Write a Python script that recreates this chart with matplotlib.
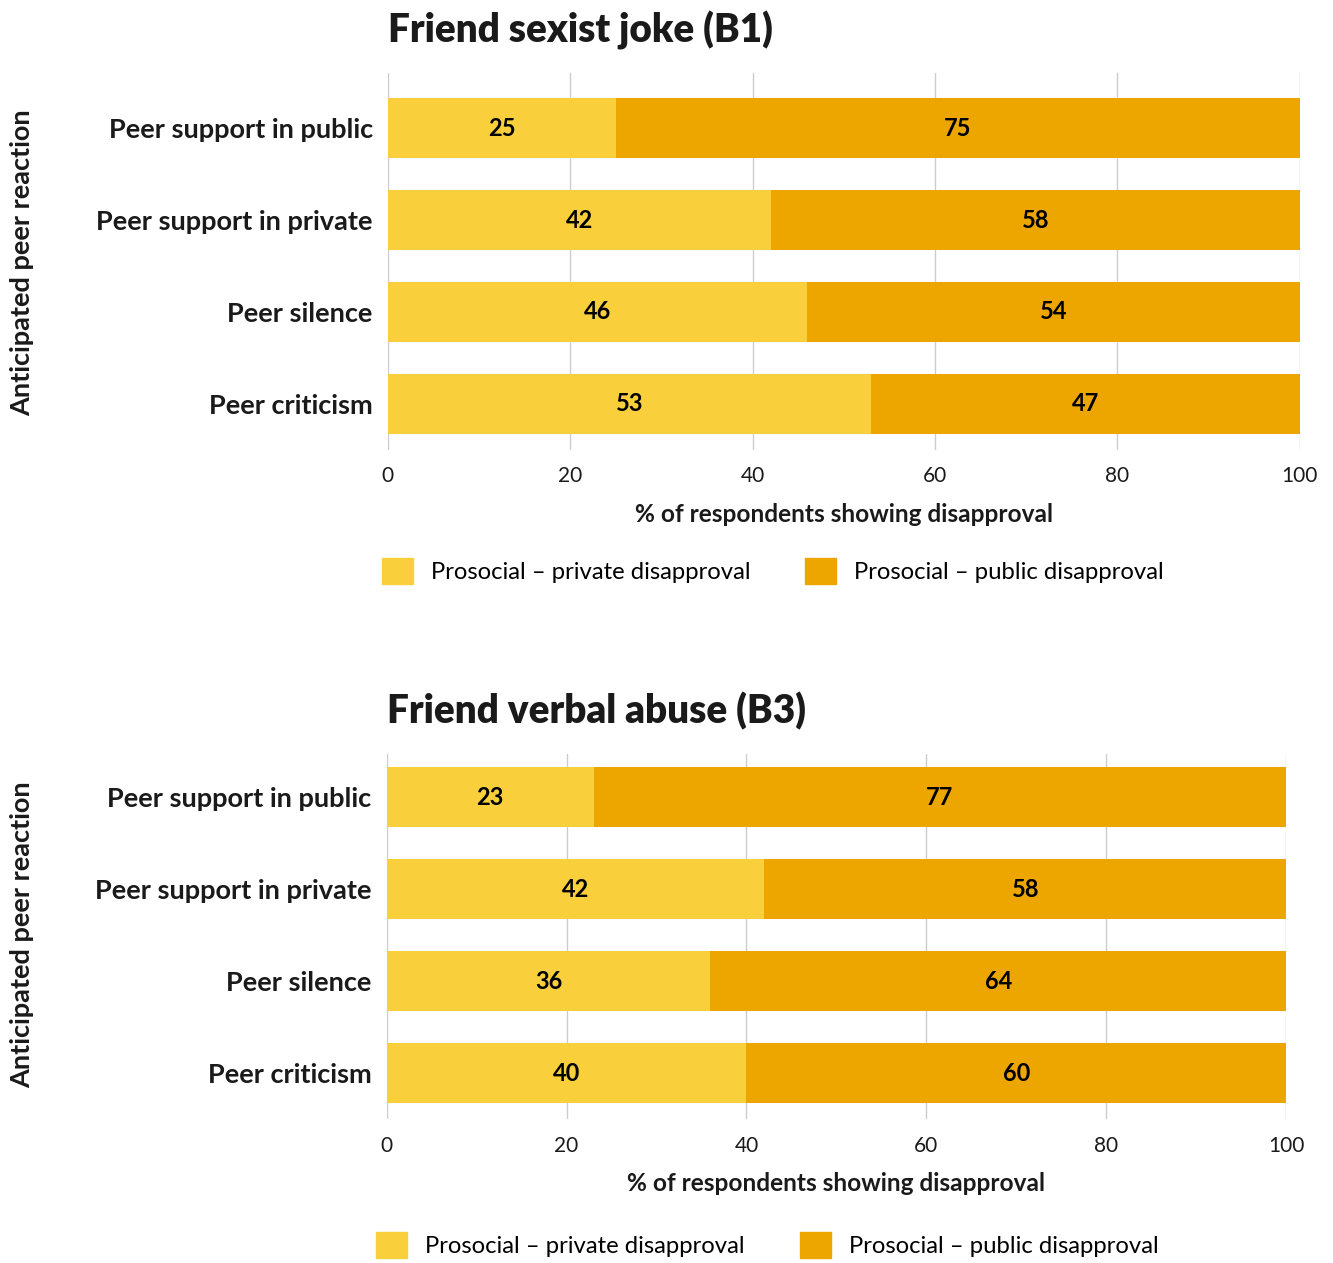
import numpy as np
import matplotlib.pyplot as plt
from matplotlib.patches import Patch

plt.rcParams['font.family'] = ['Lato', 'DejaVu Sans']

# data
categories = ['Peer support in public', 'Peer support in private', 'Peer silence', 'Peer criticism']
series_names = ['Prosocial \u2013 private disapproval', 'Prosocial \u2013 public disapproval']
titles = ['Friend sexist joke (B1)', 'Friend verbal abuse (B3)']
b1_private = [25, 42, 46, 53]
b1_public = [75, 58, 54, 47]
b3_private = [23, 42, 36, 40]
b3_public = [77, 58, 64, 60]

c_private = '#F9CF3C'
c_public = '#EDA500'
txt = '#1a1a1a'

fig = plt.figure(figsize=(13.33, 12.63), dpi=100)

# (title, values, axes rect, top ylim, legend anchor, y of side label in px)
panels = [
    (titles[0], b1_private, b1_public, [0.291, 0.644, 0.684, 0.298], -0.6, (0.422, -0.287), 263),
    (titles[1], b3_private, b3_public, [0.290, 0.114, 0.675, 0.289], -0.47, (0.423, -0.31), 935),
]

for title, priv, pub, rect, ytop, leg_anchor, ylab_y in panels:
    ax = fig.add_axes(rect)
    y = np.arange(len(categories))
    ax.barh(y, priv, height=0.652, color=c_private, zorder=2)
    ax.barh(y, pub, left=priv, height=0.652, color=c_public, zorder=2)
    for i in range(len(categories)):
        ax.text(priv[i] / 2, y[i], str(priv[i]), ha='center', va='center',
                fontsize=17, fontweight='bold', color='black')
        ax.text(priv[i] + pub[i] / 2, y[i], str(pub[i]), ha='center', va='center',
                fontsize=17, fontweight='bold', color='black')
    ax.set_ylim(3.5, ytop)
    ax.set_xlim(0, 100)
    ax.set_xticks(range(0, 101, 20))
    ax.set_yticks(y)
    ax.set_yticklabels(categories, fontsize=19.5, fontweight='bold', color=txt)
    ax.tick_params(axis='both', length=0)
    ax.tick_params(axis='x', labelsize=15, labelcolor=txt, pad=12)
    ax.tick_params(axis='y', pad=11)
    ax.grid(axis='x', color='#cccccc', linewidth=1, zorder=0)
    for s in ax.spines.values():
        s.set_visible(False)
    ax.set_xlabel('% of respondents showing disapproval', fontsize=17.6, fontweight='bold',
                  color=txt, labelpad=12)
    fig.text(22 / 1333, 1 - ylab_y / 1263, 'Anticipated peer reaction', rotation=90,
             ha='center', va='center', fontsize=19.5, fontweight='bold', color=txt)
    ax.set_title(title, loc='left', fontsize=27.8, fontweight='heavy', color=txt, pad=22)
    handles = [Patch(color=c_private), Patch(color=c_public)]
    ax.legend(handles, series_names, loc='upper center', bbox_to_anchor=leg_anchor,
              ncol=2, frameon=False, fontsize=17.2, handlelength=1.3, handleheight=1.3,
              columnspacing=2.3, handletextpad=0.75, borderpad=0, borderaxespad=0)

plt.savefig('out.png', dpi=100)
